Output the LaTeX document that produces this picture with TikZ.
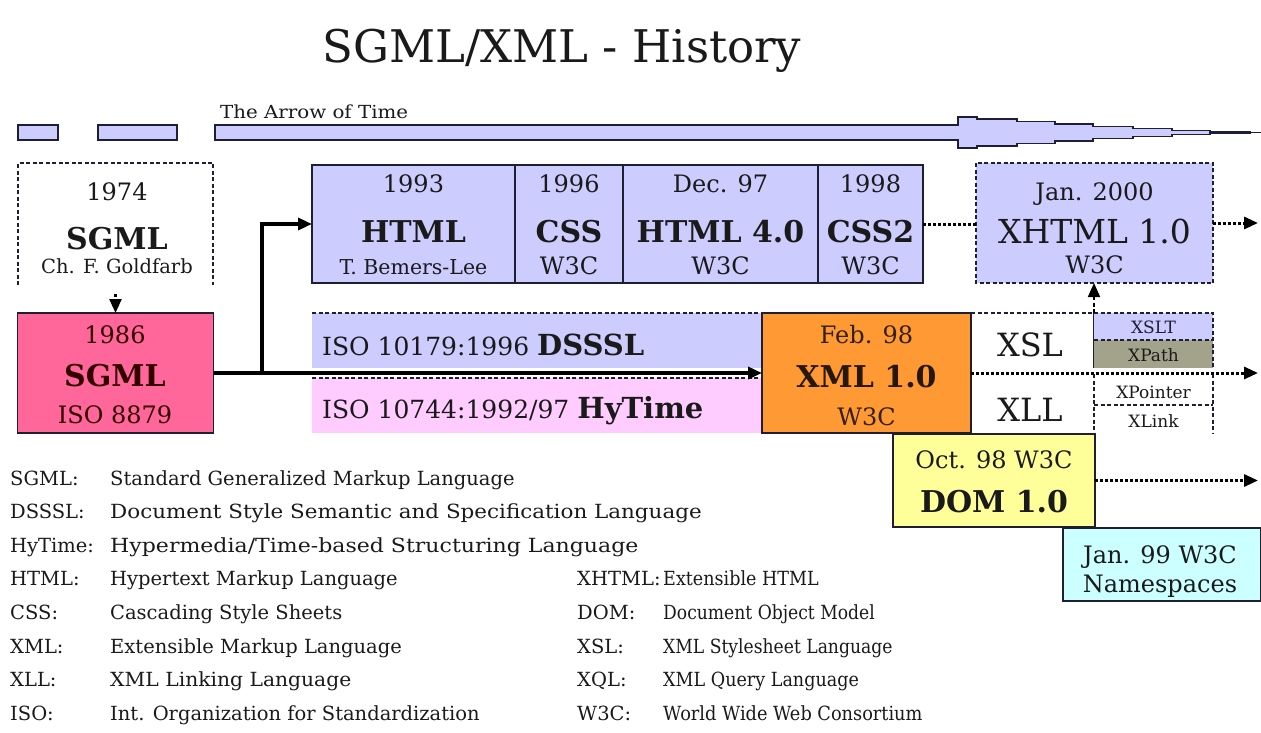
\documentclass[tikz,border=0pt]{standalone}
\usepackage{fontspec}
\setmainfont{DejaVu Serif}
\usetikzlibrary{arrows.meta}
\definecolor{lav}{HTML}{CCCCFF}
\definecolor{pinkbox}{HTML}{FF6699}
\definecolor{hypink}{HTML}{FFCCFF}
\definecolor{orng}{HTML}{FF9933}
\definecolor{yel}{HTML}{FFFF99}
\definecolor{cyn}{HTML}{CCFFFF}
\definecolor{olv}{HTML}{A3A38C}
\definecolor{bd}{HTML}{1F1F33}
\definecolor{txt}{HTML}{1A1A1A}
\newcommand{\fsz}[1]{\fontsize{#1pt}{#1pt}\selectfont}
\newcommand{\hs}[2]{\scalebox{#1}[1]{#2}}
\tikzset{
  box/.style={draw=bd, line width=2.2pt, inner sep=0pt, outer sep=0pt},
  area/.style={inner sep=0pt, outer sep=0pt},
  dshln/.style={draw=bd, line width=1.6pt, dash pattern=on 4pt off 2.5pt},
  lbl/.style={anchor=base, inner sep=0pt, text=txt},
  lw/.style={anchor=base west, inner sep=0pt, text=txt, font=\fsz{19.5}},
  yr/.style={lbl, font=\fsz{24}},
  big/.style={lbl, font=\fsz{30}\bfseries},
  small/.style={lbl, font=\fsz{17}},
  tip/.style={-{Triangle[length=14pt,width=12pt]}},
  mainln/.style={tip, line width=3.4pt, draw=black},
  dotln/.style={line width=3pt, dash pattern=on 2.5pt off 2.5pt, draw=black},
}
\begin{document}
\begin{tikzpicture}[x=1pt,y=-1pt]
\useasboundingbox (0,0) rectangle (1261,733);
\fill[white] (0,0) rectangle (1261,733);

% title
\node[lbl, font=\fsz{45}] (title) at (562,63) {SGML/XML - History};

% arrow of time
\node[anchor=base west, inner sep=0pt, text=txt, font=\fsz{18}] (aot) at (220,119) {\hs{1.1}{The Arrow of Time}};
\draw[fill=lav, draw=bd, line width=1.6pt] (18,125) rectangle (58,140);
\draw[fill=lav, draw=bd, line width=1.6pt] (98,125) rectangle (177,140);
\draw[fill=lav, draw=bd, line width=1.6pt]
  (215,125) -- (958,125) -- (958,117) -- (977,117) -- (977,119) -- (1017,119)
  -- (1017,121.5) -- (1055,121.5) -- (1055,124) -- (1093,124) -- (1093,126.5)
  -- (1133,126.5) -- (1133,128.5) -- (1172,128.5) -- (1172,130.5) -- (1210,130.5)
  -- (1210,132) -- (1250,132) -- (1250,133) -- (1210,133) -- (1210,134.5)
  -- (1172,134.5) -- (1172,136.5) -- (1133,136.5) -- (1133,138.5) -- (1093,138.5)
  -- (1093,141) -- (1055,141) -- (1055,143.5) -- (1017,143.5) -- (1017,146)
  -- (977,146) -- (977,148) -- (958,148) -- (958,140) -- (215,140) -- cycle;
\draw[draw=bd, line width=1.4pt] (1250,132.5) -- (1261,132.5);

% SGML 1974
\node[area, minimum width=195pt, minimum height=122pt] (sgml74) at (115.5,224) {};
\draw[dshln] (sgml74.south west) -- (sgml74.north west) -- (sgml74.north east) -- (sgml74.south east);
\node[yr] (sgml74y) at (117,200) {1974};
\node[big] (sgml74n) at (117,249) {SGML};
\node[lbl, font=\fsz{19.5}] (sgml74a) at (117,273) {Ch. F. Goldfarb};

% SGML 1986
\node[box, fill=pinkbox, line width=1.8pt, minimum width=196pt, minimum height=120pt] (sgml86) at (115.5,373) {};
\node[yr, text=black!80!red] (sgml86y) at (115,343) {1986};
\node[big, text=black!80!red] (sgml86n) at (115,386) {SGML};
\node[yr, text=black!80!red] (sgml86i) at (115,423) {ISO 8879};
\draw[dotln, tip, line width=2.4pt] ([yshift=-9pt]sgml74.south) -- (sgml86.north);

% HTML group
\node[box, fill=lav, minimum width=203pt, minimum height=118pt] (html) at (413.5,224) {};
\node[box, fill=lav, minimum width=108pt, minimum height=118pt] (css) at (569,224) {};
\node[box, fill=lav, minimum width=195pt, minimum height=118pt] (html4) at (720.5,224) {};
\node[box, fill=lav, minimum width=105pt, minimum height=118pt] (css2) at (870.5,224) {};
\node[yr] (htmly) at (413.5,192) {1993};
\node[big] (htmln) at (413.5,242) {HTML};
\node[lbl, font=\fsz{20.5}] (htmla) at (413.5,274) {T. Bemers-Lee};
\node[yr] (cssy) at (569,192) {1996};
\node[big] (cssn) at (569,242) {CSS};
\node[yr] (cssa) at (569,274) {W3C};
\node[yr] (html4y) at (720.5,192) {Dec. 97};
\node[big] (html4n) at (720.5,242) {HTML 4.0};
\node[yr] (html4a) at (720.5,274) {W3C};
\node[yr] (css2y) at (870.5,192) {1998};
\node[big] (css2n) at (870.5,242) {CSS2};
\node[yr] (css2a) at (870.5,274) {W3C};

% XHTML
\node[area, fill=lav, minimum width=237pt, minimum height=120pt] (xhtml) at (1094.5,223) {};
\draw[dshln] (xhtml.north west) rectangle (xhtml.south east);
\node[yr] (xhtmly) at (1094.5,200) {Jan. 2000};
\node[lbl, font=\fsz{33}] (xhtmln) at (1094.5,243) {XHTML 1.0};
\node[yr] (xhtmla) at (1094.5,273) {W3C};
\draw[dotln] (css2.east) -- (css2.east -| xhtml.west);
\coordinate (xhend) at (1258,223);
\draw[dotln, tip] (xhtml.east) -- (xhend);

% DSSSL / HyTime bands
\node[area, fill=lav, minimum width=450pt, minimum height=55pt] (dsssl) at (537,340.5) {};
\draw[dshln] (dsssl.north west) -- (dsssl.north east);
\node[area, fill=hypink, minimum width=450pt, minimum height=55pt] (hytime) at (537,405.5) {};
\draw[dshln] (hytime.north west) -- (hytime.north east);
\node[anchor=base west, inner sep=0pt, text=txt] (dssslt) at (322,355) {\fsz{25}ISO 10179:1996 {\fsz{29}\bfseries DSSSL}};
\node[anchor=base west, inner sep=0pt, text=txt] (hytimet) at (322,418) {\fsz{25}ISO 10744:1992/97 {\fsz{29}\bfseries HyTime}};

% XML
\node[box, fill=orng, line width=2pt, minimum width=209pt, minimum height=120pt] (xml) at (866.5,373) {};
\node[yr, text=black!80!orng] (xmly) at (866.5,343) {Feb. 98};
\node[big, text=black!85!orng] (xmln) at (866.5,387) {XML 1.0};
\node[yr, text=black!80!orng] (xmla) at (866.5,425) {W3C};

% SGML -> XML, SGML -> HTML
\draw[mainln] (sgml86.east) -- (xml.west);
\coordinate (br) at (262,373);
\draw[mainln] (br) |- (html.west);

% XSL / XLL
\node[area, minimum width=123pt, minimum height=61pt] (xslreg) at (1032.5,343.5) {};
\node[area, minimum width=123pt, minimum height=59pt] (xllreg) at (1032.5,403.5) {};
\draw[dshln] (xslreg.north west) -- (xslreg.north east);
\draw[draw=bd, line width=1.8pt] (xslreg.north east) -- ++(0,55);
\draw[dshln] (xllreg.north east) -- (xllreg.south east);
\node[lbl, font=\fsz{32}] (xslt0) at (1030,356) {XSL};
\node[lbl, font=\fsz{32}] (xllt0) at (1030,421) {XLL};

% XSLT / XPath / XPointer / XLink
\node[area, fill=lav, minimum width=119pt, minimum height=27pt] (xslt) at (1153.5,326.5) {};
\node[area, fill=olv, minimum width=119pt, minimum height=28pt] (xpath) at (1153.5,354) {};
\node[area, minimum width=119pt, minimum height=31pt] (xptr) at (1153.5,389.5) {};
\node[area, minimum width=119pt, minimum height=28pt] (xlink) at (1153.5,419) {};
\draw[dshln] (xslt.north west) -- (xslt.north east) -- (xpath.south east);
\draw[dshln] (xslt.south west) -- (xslt.south east);
\draw[dshln] (xptr.north east) -- (xlink.south east);
\draw[dshln] (xptr.south west) -- (xptr.south east);
\node[small, text=bd] (xsltt) at (1153.5,333) {XSLT};
\node[small] (xpatht) at (1153.5,361) {XPath};
\node[small] (xptrt) at (1153.5,398) {XPointer};
\node[small] (xlinkt) at (1153.5,427) {XLink};

% XML -> right, up arrow to XHTML
\coordinate (xmlend) at (1258,373);
\draw[dotln, tip] (xml.east) -- (xmlend);
\draw[draw=black, line width=1.8pt, dash pattern=on 4pt off 2.5pt, tip] (xslreg.north east) -- (xslreg.north east |- xhtml.south);

% DOM
\node[box, fill=yel, line width=2pt, minimum width=202pt, minimum height=93pt] (dom) at (994,480.5) {};
\node[yr] (domy) at (994,468) {Oct. 98 W3C};
\node[big] (domn) at (994,512) {DOM 1.0};
\coordinate (domend) at (1258,480.5);
\draw[dotln, tip] (dom.east) -- (domend);

% Namespaces
\node[box, fill=cyn, line width=2pt, minimum width=198pt, minimum height=73pt] (ns) at (1162,564.5) {};
\node[yr] (nsy) at (1160,563) {Jan. 99 W3C};
\node[yr] (nsn) at (1160,592) {Namespaces};

% legend
\node[lw] (l1) at (10,485) {SGML:};
\node[lw] (d1) at (110,485) {Standard Generalized Markup Language};
\node[lw] (l2) at (10,518.5) {DSSSL:};
\node[lw] (d2) at (110,518.5) {\hs{1.1}{Document Style Semantic and Specification Language}};
\node[lw] (l3) at (10,552) {HyTime:};
\node[lw] (d3) at (110,552) {\hs{1.13}{Hypermedia/Time-based Structuring Language}};
\node[lw] (l4) at (10,585.5) {HTML:};
\node[lw] (d4) at (110,585.5) {Hypertext Markup Language};
\node[lw] (l5) at (10,619) {CSS:};
\node[lw] (d5) at (110,619) {Cascading Style Sheets};
\node[lw] (l6) at (10,653) {XML:};
\node[lw] (d6) at (110,653) {Extensible Markup Language};
\node[lw] (l7) at (10,686.5) {XLL:};
\node[lw] (d7) at (110,686.5) {\hs{1.04}{XML Linking Language}};
\node[lw] (l8) at (10,720) {ISO:};
\node[lw] (d8) at (110,720) {Int. Organization for Standardization};
\node[lw] (r1) at (577,585.5) {XHTML:};
\node[lw] (e1) at (663,585.5) {\hs{0.9}{Extensible HTML}};
\node[lw] (r2) at (577,619) {DOM:};
\node[lw] (e2) at (663,619) {\hs{0.88}{Document Object Model}};
\node[lw] (r3) at (577,653) {XSL:};
\node[lw] (e3) at (663,653) {\hs{0.88}{XML Stylesheet Language}};
\node[lw] (r4) at (577,686.5) {XQL:};
\node[lw] (e4) at (663,686.5) {\hs{0.9}{XML Query Language}};
\node[lw] (r5) at (577,720) {W3C:};
\node[lw] (e5) at (663,720) {\hs{0.91}{World Wide Web Consortium}};
\end{tikzpicture}
\end{document}
